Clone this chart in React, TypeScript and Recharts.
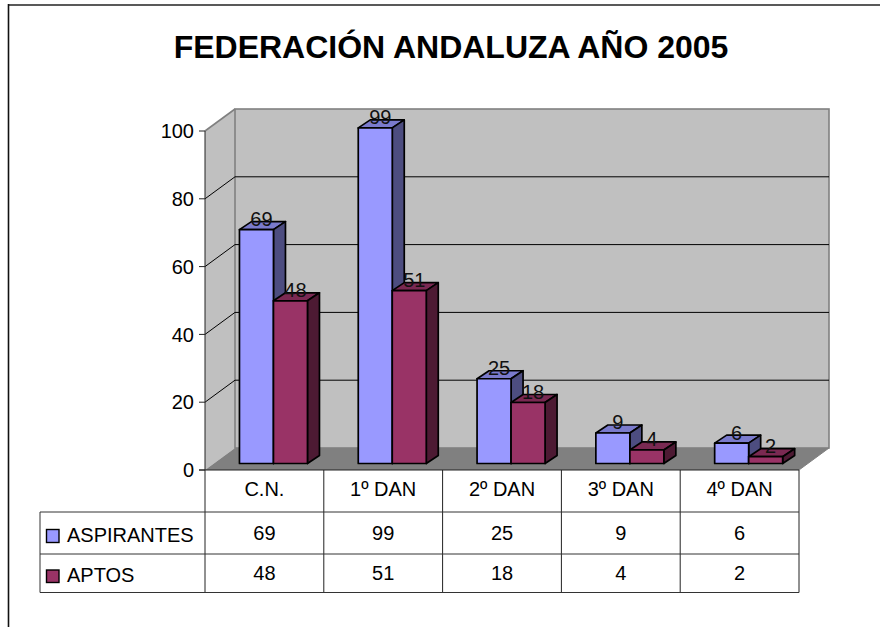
import React from "react";
import { BarChart, Bar, XAxis, YAxis, CartesianGrid, LabelList } from "recharts";

const categories = ["C.N.", "1º DAN", "2º DAN", "3º DAN", "4º DAN"];
const aspirantes = [69, 99, 25, 9, 6];
const aptos = [48, 51, 18, 4, 2];
const yTicks = [0, 20, 40, 60, 80, 100];
const data = categories.map((c, i) => ({ c, aspirantes: aspirantes[i], aptos: aptos[i] }));

const W = 880, H = 627;
const L = 205, R = 799, T = 131, B = 470;
const DX = 30, DY = 22;
const ROW1 = 512, ROW2 = 554, ROW3 = 592.5, TL = 40;
const FONT = '"Liberation Sans", Arial, sans-serif';
const FS = 20;
const BSX = 8.8, BSY = -6.5, BDX = 12, BDY = 8;

const Backdrop = () => (
  <svg width={W} height={H} style={{ position: "absolute", left: 0, top: 0 }}>
    <line x1={8} y1={5} x2={W} y2={5} stroke="#222" strokeWidth={1.6} />
    <line x1={8.5} y1={4} x2={8.5} y2={H} stroke="#111" strokeWidth={1.6} />
    <text x={451} y={58} textAnchor="middle" fontFamily={FONT} fontWeight="bold" fontSize={32} fill="#000">
      FEDERACIÓN ANDALUZA AÑO 2005
    </text>
    <polygon points={`${L},${T} ${L + DX},${T - DY} ${L + DX},${B - DY} ${L},${B}`} fill="#c0c0c0" />
    <rect x={L + DX} y={T - DY} width={R - L} height={B - T} fill="#c0c0c0" stroke="#808080" strokeWidth={1.6} />
    <polyline points={`${L},${T} ${L + DX},${T - DY}`} stroke="#808080" strokeWidth={1.6} fill="none" />
    <polygon points={`${L},${B} ${L + DX},${B - DY} ${R + DX},${B - DY} ${R},${B}`} fill="#808080" />
    <polyline points={`${R},${B} ${R + DX},${B - DY}`} stroke="#808080" strokeWidth={1} fill="none" />
  </svg>
);

const TableOverlay = () => (
  <svg width={W} height={H} style={{ position: "absolute", left: 0, top: 0, pointerEvents: "none" }}>
    <line x1={L} y1={B} x2={L} y2={ROW3} stroke="#222" />
    <line x1={TL} y1={ROW1} x2={R} y2={ROW1} stroke="#333" />
    <line x1={TL} y1={ROW2} x2={R} y2={ROW2} stroke="#333" />
    <line x1={TL} y1={ROW3} x2={R} y2={ROW3} stroke="#333" />
    <line x1={TL} y1={ROW1} x2={TL} y2={ROW3} stroke="#333" />
    <line x1={L - 6} y1={B} x2={R} y2={B} stroke="#222" />
    <rect x={46.5} y={529.5} width={12.5} height={13} fill="#9999ff" stroke="#000" strokeWidth={1.4} />
    <rect x={46.5} y={570} width={12.5} height={12.5} fill="#993366" stroke="#000" strokeWidth={1.4} />
    <text x={67} y={541.5} fontFamily={FONT} fontSize={FS} fill="#000">ASPIRANTES</text>
    <text x={67} y={581.5} fontFamily={FONT} fontSize={FS} fill="#000">APTOS</text>
  </svg>
);

const TableTick = (props: any) => {
  const { x, payload } = props;
  const i = payload.index as number;
  const half = (R - L) / categories.length / 2;
  const cx = x;
  return (
    <g>
      <line x1={cx + half} y1={B} x2={cx + half} y2={ROW3} stroke="#222" />
      <text x={cx} y={496} textAnchor="middle" fontFamily={FONT} fontSize={FS} fill="#000">{categories[i]}</text>
      <text x={cx} y={540} textAnchor="middle" fontFamily={FONT} fontSize={FS} fill="#000">{aspirantes[i]}</text>
      <text x={cx} y={580} textAnchor="middle" fontFamily={FONT} fontSize={FS} fill="#000">{aptos[i]}</text>
    </g>
  );
};

const GridLine = (props: any) => {
  const { x1, x2, y1, index } = props;
  if (y1 >= B - 1 || y1 <= T + 1) return <g key={index} />;
  return (
    <g key={index}>
      <line x1={x1} y1={y1} x2={x1 + DX} y2={y1 - DY} stroke="#000" strokeWidth={1} />
      <line x1={x1 + DX} y1={y1 - DY} x2={x2 + DX} y2={y1 - DY} stroke="#000" strokeWidth={1} />
    </g>
  );
};

const box3d = (front: string, top: string, side: string) => (props: any) => {
  const { x, y, width, height } = props;
  const fx = x + BSX, fy = y + BSY, w = width, h = height;
  return (
    <g stroke="#000" strokeWidth={1.7} strokeLinejoin="round">
      <polygon points={`${fx},${fy} ${fx + BDX},${fy - BDY} ${fx + w + BDX},${fy - BDY} ${fx + w},${fy}`} fill={top} />
      <polygon points={`${fx + w},${fy} ${fx + w + BDX},${fy - BDY} ${fx + w + BDX},${fy + h - BDY} ${fx + w},${fy + h}`} fill={side} />
      <rect x={fx} y={fy} width={w} height={h} fill={front} />
    </g>
  );
};

const BarLabel = (props: any) => {
  const { x, y, width, value } = props;
  return (
    <text x={x + BSX + width / 2 + 5} y={y + BSY - 3.5} textAnchor="middle" fontFamily={FONT} fontSize={FS} fill="#111">
      {value}
    </text>
  );
};

export default function App() {
  return (
    <div style={{ position: "absolute", left: 0, top: 0, width: W, height: H, overflow: "hidden", background: "#fff" }}>
      <Backdrop />
      <div style={{ position: "absolute", left: 0, top: 0 }}>
        <BarChart
          width={W}
          height={H}
          data={data}
          margin={{ left: L - 60, right: W - R, top: T, bottom: H - B - 40 }}
          barCategoryGap="21.6%"
          barGap={0}
        >
          <CartesianGrid vertical={false} horizontal={GridLine as any} />
          <XAxis
            dataKey="c"
            height={40}
            interval={0}
            axisLine={false}
            tickLine={false}
            tick={TableTick as any}
          />
          <YAxis
            width={60}
            domain={[0, 100]}
            ticks={yTicks}
            interval={0}
            tickSize={6}
            tickMargin={5}
            axisLine={{ stroke: "#222" }}
            tickLine={{ stroke: "#222" }}
            tick={{ fontFamily: FONT, fontSize: FS, fill: "#000" }}
          />
          <Bar dataKey="aspirantes" isAnimationActive={false} shape={box3d("#9999ff", "#7a7acc", "#4d4d80") as any}>
            <LabelList dataKey="aspirantes" content={BarLabel as any} />
          </Bar>
          <Bar dataKey="aptos" isAnimationActive={false} shape={box3d("#993366", "#7a2952", "#4d1a33") as any}>
            <LabelList dataKey="aptos" content={BarLabel as any} />
          </Bar>
        </BarChart>
      </div>
      <TableOverlay />
    </div>
  );
}
